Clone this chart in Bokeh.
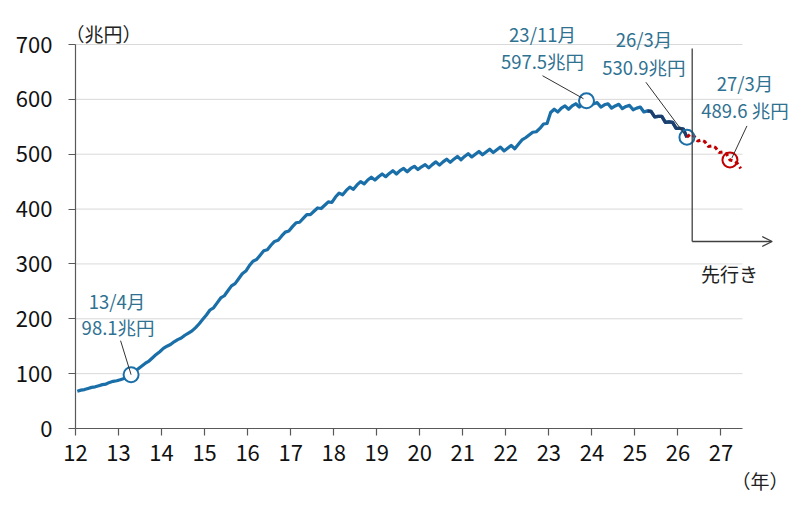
import numpy as np
from bokeh.plotting import figure
from bokeh.models import Range1d, Label, Arrow, OpenHead, FixedTicker, Title
from bokeh.embed import file_html
from bokeh.resources import INLINE

# ---------------- data ----------------
x_ticks = list(range(12, 28))
y_ticks = [0, 100, 200, 300, 400, 500, 600, 700]

# monthly holdings (兆円), Jan 2012 .. Mar 2026
hist_2012 = [68, 70, 71, 73, 75, 76, 78, 80, 81, 84, 86, 87]
hist_2013 = [89, 91, 93, 98.1, 104, 109, 114, 119, 123, 129, 135, 140]
hist_2014 = [146, 150, 153, 158, 162, 165, 170, 174, 178, 184, 191, 199]
hist_2015 = [207, 216, 220, 229, 238, 242, 251, 260, 264, 273, 282, 287]
hist_2016 = [297, 305, 308, 316, 324, 326, 334, 341, 343, 351, 358, 360]
hist_2017 = [368, 375, 376, 383, 390, 390, 396, 402, 401, 407, 413, 412]
hist_2018 = [422, 429, 426, 434, 440, 436, 444, 450, 446, 453, 458, 453]
hist_2019 = [459, 464, 459, 465, 470, 464, 470, 474, 468, 474, 478, 472]
hist_2020 = [477, 481, 475, 481, 486, 480, 486, 491, 485, 491, 496, 490]
hist_2021 = [496, 501, 495, 500, 505, 499, 504, 509, 503, 508, 513, 506]
hist_2022 = [511, 516, 510, 518, 526, 530, 535, 540, 541, 547, 555, 556]
hist_2023 = [576, 582, 577, 584, 588, 582, 588, 592, 586, 592, 597.5, 589]
hist_2024 = [592, 594, 586, 590, 592, 584, 588, 591, 583, 587, 589, 581]
hist_2025 = [584, 586, 577, 579, 578, 568, 569, 569, 558, 559, 558, 547]
hist_2026 = [547, 546, 530.9]
hist = (hist_2012 + hist_2013 + hist_2014 + hist_2015 + hist_2016 + hist_2017 +
        hist_2018 + hist_2019 + hist_2020 + hist_2021 + hist_2022 + hist_2023 +
        hist_2024 + hist_2025 + hist_2026)
hist_start = (12, 1)

# outlook (先行き), Mar 2026 .. Jun 2027
fcst = [530.9, 537, 533, 524, 526, 523, 514, 515, 512, 503, 504, 501, 489.6, 488, 484, 474]
fcst_start = (26, 3)

dark_start = (25, 4)   # darker recent segment

ann_year = [13, 23, 26, 27]
ann_month = [4, 11, 3, 3]
ann_values = [98.1, 597.5, 530.9, 489.6]
ann_labels = ["13/4月", "23/11月", "26/3月", "27/3月"]
ann_value_labels = ["98.1兆円", "597.5兆円", "530.9兆円", "489.6 兆円"]


def month_x(year, month):
    return year + (month - 0.5) / 12.0


def series_x(start, n):
    y0, m0 = start
    return [month_x(y0 + (m0 - 1 + i) // 12, (m0 - 1 + i) % 12 + 1) for i in range(n)]


hx = series_x(hist_start, len(hist))
fx = series_x(fcst_start, len(fcst))
dark_i = (dark_start[0] - hist_start[0]) * 12 + (dark_start[1] - hist_start[1])

# ---------------- layout ----------------
W, H = 800, 513
LEFT, BOTTOM = 75, 85
XMIN, XEND, YMIN, YEND = 12, 27.5, 0, 700       # visible axis extents
PXX = 667 / (XEND - XMIN)                        # px per year
PXY = 384 / (YEND - YMIN)                        # px per 兆円
XMAX = XMIN + (W - LEFT) / PXX                   # frame reaches canvas right edge
YMAX = YMIN + (H - BOTTOM) / PXY                 # frame reaches canvas top edge

BLUE = "#1B6FA8"
NAVY = "#1C3F6E"
RED = "#C00000"
TXT = "#2F7191"
GRAY = "#595959"
FONT = "Noto Sans CJK JP"


def off(xd, yd, dxp, dyp):
    return xd + dxp / PXX, yd - dyp / PXY


def px2data(px, py):
    return XMIN + (px - LEFT) / PXX, YMIN + (H - BOTTOM - py) / PXY


p = figure(width=W, height=H, x_range=Range1d(XMIN, XMAX), y_range=Range1d(YMIN, YMAX),
           output_backend="svg", toolbar_location=None, title=None,
           min_border_left=LEFT, min_border_right=0,
           min_border_top=0, min_border_bottom=BOTTOM)
p.outline_line_color = None
p.background_fill_color = "white"
p.border_fill_color = "white"
p.xgrid.visible = False
p.ygrid.visible = False

p.yaxis.ticker = FixedTicker(ticks=y_ticks)
p.xaxis.ticker = FixedTicker(ticks=x_ticks)
p.yaxis.bounds = (YMIN, YEND)
p.xaxis.bounds = (XMIN, XEND)
for ax in (p.xaxis, p.yaxis):
    ax.axis_line_color = GRAY
    ax.axis_line_width = 1.2
    ax.major_tick_line_color = GRAY
    ax.major_tick_line_width = 1.2
    ax.major_tick_in = 0
    ax.major_tick_out = 7
    ax.minor_tick_line_color = None
    ax.major_label_text_font = FONT
    ax.major_label_text_font_size = "22px"
    ax.major_label_text_color = "#111111"
p.yaxis.major_label_standoff = 16
p.xaxis.major_label_standoff = 9

# horizontal gridlines limited to the axis extent
gy = [t for t in y_ticks if t > YMIN]
p.segment(x0=[XMIN] * len(gy), y0=gy, x1=[XEND] * len(gy), y1=gy,
          line_color="#D9D9D9", line_width=1)

# lines
p.line(hx, hist, line_color=BLUE, line_width=3.2, line_join="round")
p.line(hx[dark_i:], hist[dark_i:], line_color=NAVY, line_width=3.2, line_join="round")
p.line(fx, fcst, line_color=RED, line_width=3, line_dash="4 3")

# annotation circles
ax_pts = [month_x(y, m) for y, m in zip(ann_year, ann_month)]
p.scatter(ax_pts[:2], ann_values[:2], marker="circle", size=15, line_color=BLUE,
          line_width=2, fill_color="white")
p.scatter(ax_pts[2:3], ann_values[2:3], marker="circle", size=15, line_color=BLUE,
          line_width=2, fill_color=None)
p.scatter(ax_pts[3:], ann_values[3:], marker="circle", size=15, line_color=RED,
          line_width=2, fill_color=None)

# text/leader offsets in pixels relative to each circle
text1_off = [(-14, -74), (-44, -67), (-43, -98), (15, -77)]
text2_off = [(-13, -48), (-44, -40), (-43, -70), (15, -50)]
lead_s = [(-10.5, -34), (-44, -25), (-41, -55), (17, -34)]
lead_e = [(0, 0), (-3, -2), (-3, -4), (2, -2)]

for i in range(4):
    xd, yd = ax_pts[i], ann_values[i]
    xs, ys = off(xd, yd, *lead_s[i])
    xe, ye = off(xd, yd, *lead_e[i])
    p.add_layout(Arrow(end=None, x_start=xs, y_start=ys, x_end=xe, y_end=ye,
                       line_color="#333333", line_width=1))
    for txt, o in ((ann_labels[i], text1_off[i]), (ann_value_labels[i], text2_off[i])):
        tx, ty = off(xd, yd, *o)
        p.add_layout(Label(x=tx, y=ty, text=txt, text_align="center", text_baseline="middle",
                           text_font=FONT, text_font_size="18.5px", text_color=TXT))

# outlook marker: vertical line + arrow
bx0, by0 = px2data(691.7, 48)
bx1, by1 = px2data(691.7, 241)
ax1, _ = px2data(771.7, 241)
p.add_layout(Arrow(end=None, x_start=bx0, y_start=by0, x_end=bx1, y_end=by1,
                   line_color="#404040", line_width=1.3))
p.add_layout(Arrow(end=OpenHead(size=10, line_color="#404040", line_width=1.3),
                   x_start=bx1, y_start=by1, x_end=ax1, y_end=by1,
                   line_color="#404040", line_width=1.3))

lx, ly = px2data(729, 273)
p.add_layout(Label(x=lx, y=ly, text="先行き", text_align="center", text_baseline="middle",
                   text_font=FONT, text_font_size="19px", text_color="#222222"))

ux, uy = px2data(103, 33)
p.add_layout(Label(x=ux, y=uy, text="（兆円）", text_align="center", text_baseline="middle",
                   text_font=FONT, text_font_size="19px", text_color="#222222"))

p.add_layout(Title(text="（年）", align="left", offset=731 - LEFT, standoff=2,
                   text_font=FONT, text_font_size="19px", text_font_style="normal",
                   text_color="#222222"), "below")

open("out.html", "w").write(file_html(p, INLINE))
